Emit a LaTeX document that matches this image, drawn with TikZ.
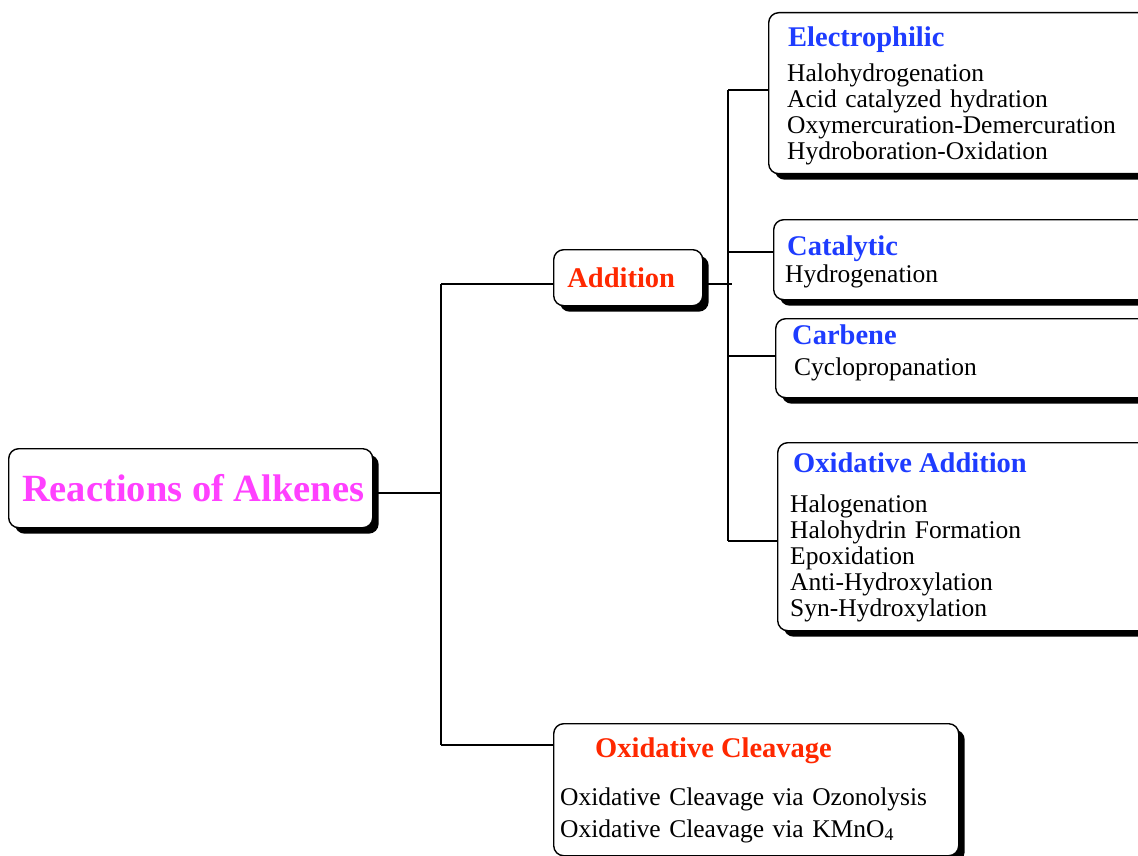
\documentclass[tikz,border=0pt]{standalone}
\usepackage{fontspec}
\setmainfont{Liberation Serif}
\usetikzlibrary{shadows,positioning,calc}
\definecolor{titlemagenta}{RGB}{255,64,255}
\definecolor{headred}{RGB}{255,40,0}
\definecolor{headblue}{RGB}{30,60,255}

\begin{document}
\begin{tikzpicture}[
    x=1pt, y=-1pt,
    card/.style={rectangle, rounded corners=10pt, draw=black, line width=1.4pt, fill=white, inner sep=0pt, anchor=north west, drop shadow={shadow xshift=6pt, shadow yshift=-6pt, fill=black, opacity=1}},
    head/.style={anchor=base west, inner sep=0pt, font=\fontsize{28.5}{30}\selectfont\bfseries, text=headblue},
    entry/.style={anchor=base west, inner sep=0pt, align=left, text width=460pt, font=\fontsize{25.5}{26}\selectfont},
    link/.style={line width=1.4pt}
]
\useasboundingbox (0,0) rectangle (1138,856);
\clip (0,0) rectangle (1138,856);

% Root and first level
\node[card, minimum width=364pt, minimum height=79pt, font=\fontsize{38.5}{40}\selectfont\bfseries, text=titlemagenta] (alkenes) at (8,448) {\hspace*{5pt}Reactions of Alkenes};
\node[card, minimum width=149pt, minimum height=56pt, font=\fontsize{28.5}{30}\selectfont\bfseries, text=headred] (addition) at (553,249) {Addition\hspace*{14pt}};
\node[card, minimum width=405pt, minimum height=132pt] (cleavage) at (553,723) {};

% Addition types
\node[card, minimum width=392pt, minimum height=161pt] (electrophilic) at (768,12) {};
\node[card, minimum width=387pt, minimum height=80pt] (catalytic) at (773,219) {};
\node[card, minimum width=385pt, minimum height=79pt] (carbene) at (775,318) {};
\node[card, minimum width=383pt, minimum height=188pt] (oxaddition) at (777,442) {};

% Box texts
\node[head] (electitle) at (788,47) {Electrophilic};
\node[entry] (eleclist) at (787,82) {Halohydrogenation\\Acid catalyzed hydration\\Oxymercuration-Demercuration\\Hydroboration-Oxidation};
\node[head] (cattitle) at (787,255) {Catalytic};
\node[entry] (catlist) at (785,282) {Hydrogenation};
\node[head] (carbtitle) at (792,344) {Carbene};
\node[entry] (carblist) at (794,375) {Cyclopropanation};
\node[head] (oxtitle) at (793,472) {Oxidative Addition};
\node[entry] (oxlist) at (790,512) {Halogenation\\Halohydrin Formation\\Epoxidation\\Anti-Hydroxylation\\Syn-Hydroxylation};
\node[head, text=headred] (cleavtitle) at (595,757) {Oxidative Cleavage};
\node[entry] (cleavlist) at (560,805) {Oxidative Cleavage via Ozonolysis\\[6pt]Oxidative Cleavage via KMnO\textsubscript{4}};

% Tree lines
\coordinate (trunk) at (441,493);
\coordinate (addin) at (441,284);
\coordinate (cleavin) at (441,745);
\coordinate (addout) at (732,284);
\coordinate (hubtop) at (728,90);
\coordinate (hubcat) at (728,252);
\coordinate (hubcarb) at (728,356);
\coordinate (hubbot) at (728,541);

\draw[link] (alkenes.east |- trunk) -- (trunk);
\draw[link] (addin) -- (cleavin);
\draw[link] (addin) -- (addin -| addition.west);
\draw[link] (cleavin) -- (cleavin -| cleavage.west);
\draw[link] (addout -| addition.east) -- (addout);
\draw[link] (hubtop) -- (hubbot);
\draw[link] (hubtop) -- (hubtop -| electrophilic.west);
\draw[link] (hubcat) -- (hubcat -| catalytic.west);
\draw[link] (hubcarb) -- (hubcarb -| carbene.west);
\draw[link] (hubbot) -- (hubbot -| oxaddition.west);

\end{tikzpicture}
\end{document}
